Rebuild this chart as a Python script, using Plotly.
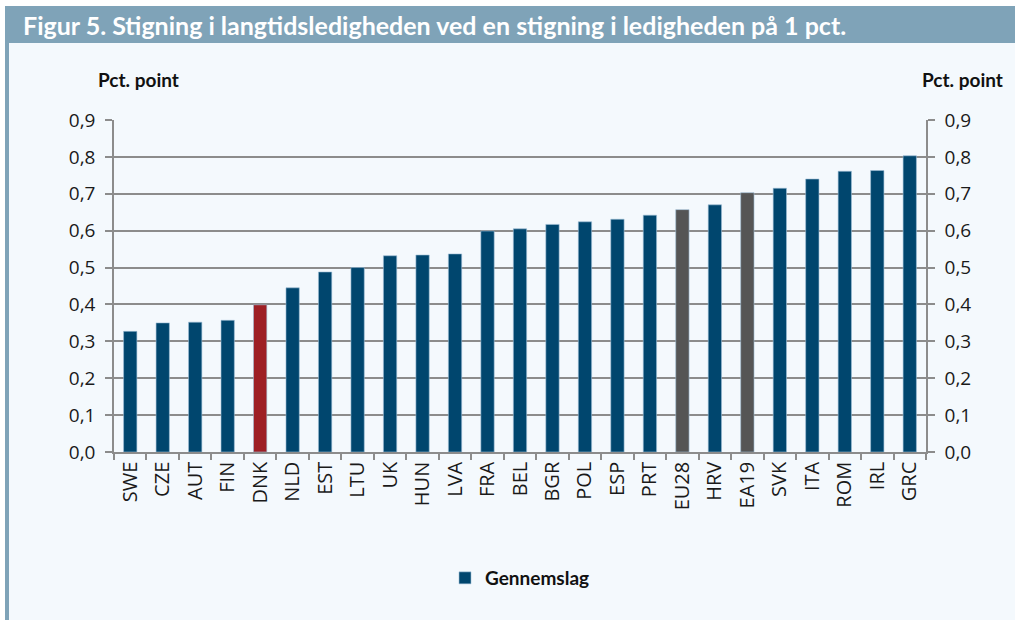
import plotly.graph_objects as go

################################
# DATA
################################

countries = [
    "SWE", "CZE", "AUT", "FIN", "DNK", "NLD", "EST", "LTU", "UK", "HUN",
    "LVA", "FRA", "BEL", "BGR", "POL", "ESP", "PRT", "EU28", "HRV", "EA19",
    "SVK", "ITA", "ROM", "IRL", "GRC",
]

gennemslag = [
    0.327, 0.350, 0.352, 0.357, 0.399, 0.445, 0.488, 0.500, 0.532, 0.534,
    0.537, 0.599, 0.605, 0.617, 0.624, 0.631, 0.642, 0.657, 0.670, 0.703,
    0.715, 0.740, 0.761, 0.763, 0.803,
]

y_ticks = [0.0, 0.1, 0.2, 0.3, 0.4, 0.5, 0.6, 0.7, 0.8, 0.9]
y_tick_labels = ["0,0", "0,1", "0,2", "0,3", "0,4", "0,5", "0,6", "0,7", "0,8", "0,9"]

title_text = "Figur 5. Stigning i langtidsledigheden ved en stigning i ledigheden på 1 pct."
axis_title = "Pct. point"
series_name = "Gennemslag"

################################
# STYLE
################################

BLUE = "#00466e"
RED = "#9e1f24"
GREY = "#555555"
FRAME = "#7fa3b8"
BG = "#f4f9fd"
GRID = "#8c8c8c"

W, H = 1015, 620
L, R, T, B = 114, 89, 120, 168


def bar_color(name):
    if name == "DNK":
        return RED
    if name in ("EU28", "EA19"):
        return GREY
    return BLUE


# pixel -> paper helpers (for decoration only)
def px_x(x):
    return (x - L) / (W - L - R)


def px_y(y):
    return (H - B - y) / (H - T - B)


fig = go.Figure()

fig.add_trace(go.Bar(
    x=countries,
    y=gennemslag,
    name=series_name,
    width=0.41,
    marker=dict(
        color=[bar_color(c) for c in countries],
        line=dict(color="#9fbfd6", width=0.6),
    ),
))

# invisible trace to carry the right-hand axis
fig.add_trace(go.Scatter(
    x=countries,
    y=gennemslag,
    yaxis="y2",
    mode="markers",
    marker=dict(opacity=0),
    showlegend=False,
    hoverinfo="skip",
))

y_tick_font = dict(family="Open Sans, DejaVu Sans, sans-serif", size=19, color="#1a1a1a")
x_tick_font = dict(family="Open Sans, DejaVu Sans, sans-serif", size=20, color="#1a1a1a")
bold_font = dict(family="Lato, sans-serif", size=19, color="#111111", weight="bold")

yaxis_common = dict(
    range=[0, 0.9],
    tickvals=y_ticks,
    ticktext=y_tick_labels,
    tickfont=y_tick_font,
    ticks="outside",
    ticklen=7,
    tickcolor=GRID,
    tickwidth=1.5,
    ticklabelstandoff=6,
    showline=True,
    linecolor=GRID,
    linewidth=1.5,
    zeroline=False,
)

fig.update_layout(
    width=W,
    height=H,
    margin=dict(l=L, r=R, t=T, b=B),
    paper_bgcolor=BG,
    plot_bgcolor=BG,
    xaxis=dict(
        type="category",
        range=[-0.5, len(countries) - 0.5],
        tickangle=-90,
        tickfont=x_tick_font,
        ticks="outside",
        tickson="boundaries",
        ticklen=6,
        tickcolor=GRID,
        tickwidth=1.5,
        showline=True,
        linecolor=GRID,
        linewidth=1.5,
        showgrid=False,
    ),
    yaxis=dict(
        **yaxis_common,
        showgrid=True,
        gridcolor=GRID,
        gridwidth=1.5,
    ),
    yaxis2=dict(
        **yaxis_common,
        overlaying="y",
        side="right",
        showgrid=False,
    ),
    showlegend=True,
    legend=dict(
        orientation="h",
        x=0.5,
        xanchor="center",
        y=px_y(578),
        yanchor="middle",
        bgcolor="rgba(0,0,0,0)",
        font=bold_font,
        itemwidth=30,
    ),
)

# title bar, left frame edge and white strips
fig.add_shape(type="rect", xref="paper", yref="paper",
              x0=px_x(0), x1=px_x(W), y0=px_y(6), y1=px_y(0),
              fillcolor="white", line=dict(width=0), layer="below")
fig.add_shape(type="rect", xref="paper", yref="paper",
              x0=px_x(0), x1=px_x(5), y0=px_y(H), y1=px_y(0),
              fillcolor="white", line=dict(width=0), layer="below")
fig.add_shape(type="rect", xref="paper", yref="paper",
              x0=px_x(5), x1=px_x(W), y0=px_y(43), y1=px_y(6),
              fillcolor=FRAME, line=dict(width=0), layer="below")
fig.add_shape(type="rect", xref="paper", yref="paper",
              x0=px_x(5), x1=px_x(9), y0=px_y(H), y1=px_y(43),
              fillcolor=FRAME, line=dict(width=0), layer="below")

fig.add_annotation(
    text=title_text,
    xref="paper", yref="paper",
    x=px_x(21), y=px_y(25),
    xanchor="left", yanchor="middle",
    showarrow=False,
    font=dict(family="Lato, sans-serif", size=25, color="white", weight="bold"),
)

for xpos, anchor in [(px_x(96), "left"), (px_x(1005), "right")]:
    fig.add_annotation(
        text=axis_title,
        xref="paper", yref="paper",
        x=xpos, y=px_y(79),
        xanchor=anchor, yanchor="middle",
        showarrow=False,
        font=bold_font,
    )

# page has a default body margin; drop it so the figure fills the window
fig.write_html(
    "out.html",
    config={"displayModeBar": False},
    post_script="document.body.style.margin='0';document.body.style.overflow='hidden';",
)
